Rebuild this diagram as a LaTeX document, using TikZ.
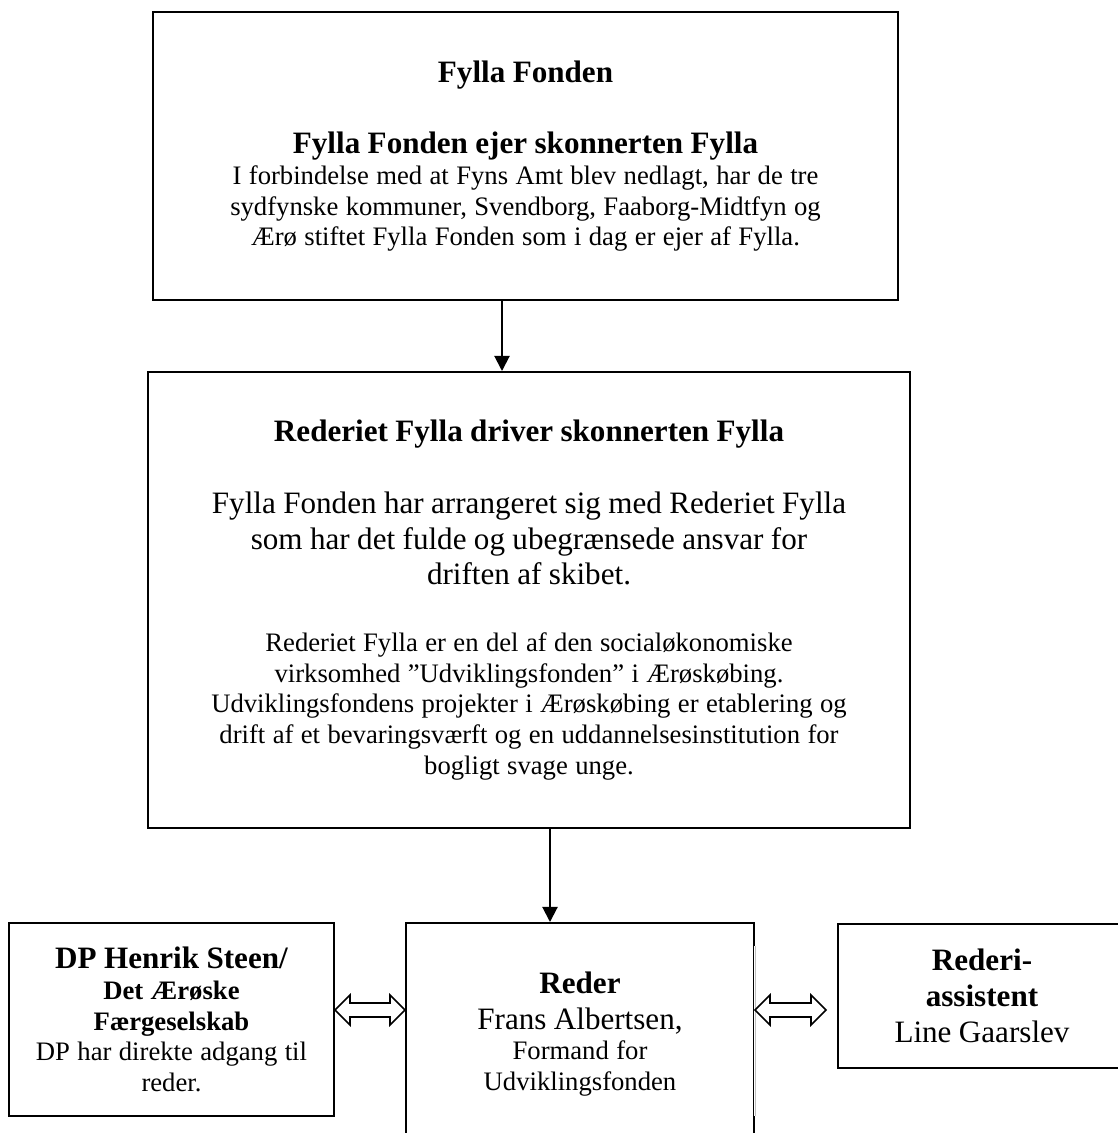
\documentclass[tikz,border=0pt]{standalone}
\usepackage{fontspec}
\setmainfont{Liberation Serif}
\usetikzlibrary{arrows.meta,calc}
\newcommand\fyT{\fontsize{14pt}{16.1pt}\selectfont\bfseries}
\newcommand\fyR{\fontsize{14pt}{16.1pt}\selectfont\mdseries}
\newcommand\fyS{\fontsize{12pt}{13.8pt}\selectfont\mdseries}
\newcommand\fySB{\fontsize{12pt}{13.8pt}\selectfont\bfseries}
\def\px{0.45}
\begin{document}
\begin{tikzpicture}[x=0.45pt,y=-0.45pt,
  box/.style={draw=black, line width=0.9pt, align=center, inner sep=0pt},
  conn/.style={line width=0.9pt, -{Triangle[length=6.8pt,width=6.8pt]}},
  dbl/.style={draw=black, fill=white, line width=0.7pt, line join=miter}]
\useasboundingbox (0,0) rectangle (1117,1133);

\node[box, minimum width=745*\px, minimum height=288*\px, text width=720*\px] (fond) at (525.5,156) {%
\fyT Fylla Fonden\par
\fyT\mbox{}\par
\fyT Fylla Fonden ejer skonnerten Fylla\par
\fyS I forbindelse med at Fyns Amt blev nedlagt, har de tre\\sydfynske kommuner, Svendborg, Faaborg-Midtfyn og\\Ærø stiftet Fylla Fonden som i dag er ejer af Fylla.\par
\vspace{3.6pt}};

\node[box, minimum width=762*\px, minimum height=456*\px, text width=740*\px] (rederiet) at (529,600) {%
\fyT Rederiet Fylla driver skonnerten Fylla\par
\fyT\mbox{}\par
\fyR Fylla Fonden har arrangeret sig med Rederiet Fylla\\som har det fulde og ubegrænsede ansvar for\\driften af skibet.\par
\fyR\mbox{}\par
\fyS Rederiet Fylla er en del af den socialøkonomiske\\virksomhed ”Udviklingsfonden” i Ærøskøbing.\\Udviklingsfondens projekter i Ærøskøbing er etablering og\\drift af et bevaringsværft og en uddannelsesinstitution for\\bogligt svage unge.\par};

\node[box, minimum width=325*\px, minimum height=193*\px, text width=315*\px] (dp) at (171.5,1019.5) {%
\fyT DP Henrik Steen/\par
\fySB Det Ærøske\\Færgeselskab\par
\fyS DP har direkte adgang til\\reder.\par
\vspace{2.7pt}};

\node[box, minimum width=348*\px, minimum height=222*\px, text width=330*\px] (reder) at (580,1034) {%
\fyT Reder\par
\fyR Frans Albertsen,\par
\fyS Formand for\\Udviklingsfonden\par
\vspace{4.5pt}};

\node[box, minimum width=288*\px, minimum height=144*\px, text width=270*\px] (asst) at (982,996) {%
\fyT Rederi-\\assistent\par
\fyR Line Gaarslev\par
\vspace{3.2pt}};

% gap in the right edge of the Reder box
\draw[white, line width=1.3pt] ($(reder.north east)+(0,24)$) -- ($(reder.north east)+(0,194)$);
\draw[black!25, line width=0.3pt] ($(reder.north east)+(0,24)$) -- ($(reder.north east)+(0,194)$);

\coordinate (a1) at (502,0);
\coordinate (a2) at (550,0);
\draw[conn] (fond.south -| a1) -- (rederiet.north -| a1);
\draw[conn] (rederiet.south -| a2) -- (reder.north -| a2);

\coordinate (ya) at (0,1010);
\path (dp.east |- ya) coordinate (l1) (reder.west |- ya) coordinate (l2);
\draw[dbl] (l1) -- ++(15,-15) -- ++(0,8) -- ($(l2)+(-15,-7)$) -- ++(0,-8) -- (l2) -- ++(-15,15) -- ++(0,-8) -- ($(l1)+(15,7)$) -- ++(0,8) -- cycle;
\path (reder.east |- ya) coordinate (r1) ($(asst.west |- ya)+(-11,0)$) coordinate (r2);
\draw[dbl] (r1) -- ++(15,-15) -- ++(0,8) -- ($(r2)+(-15,-7)$) -- ++(0,-8) -- (r2) -- ++(-15,15) -- ++(0,-8) -- ($(r1)+(15,7)$) -- ++(0,8) -- cycle;
\end{tikzpicture}
\end{document}
